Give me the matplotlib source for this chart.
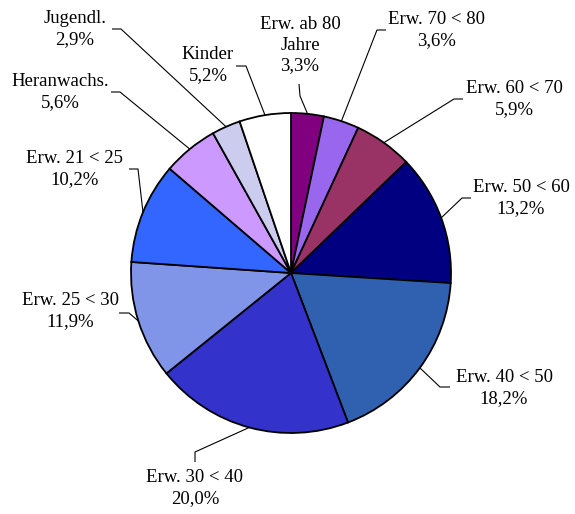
import matplotlib
matplotlib.use('Agg')
import matplotlib.pyplot as plt
import numpy as np

plt.rcParams['font.family'] = ['Liberation Serif', 'DejaVu Serif']

labels = ['Erw. ab 80\nJahre', 'Erw. 70 < 80', 'Erw. 60 < 70', 'Erw. 50 < 60',
          'Erw. 40 < 50', 'Erw. 30 < 40', 'Erw. 25 < 30', 'Erw. 21 < 25',
          'Heranwachs.', 'Jugendl.', 'Kinder']
values = [3.3, 3.6, 5.9, 13.2, 18.2, 20.0, 11.9, 10.2, 5.6, 2.9, 5.2]
colors = ['#800080', '#9966ee', '#993366', '#000080', '#3060b0', '#3333cc',
          '#8094e8', '#3366ff', '#cc99ff', '#ccccee', '#ffffff']

W, H = 575, 514
# label layout in pixels (top-left origin): text centre, line start, elbow
text_pos = [(300, 45), (437, 30), (514, 99), (521, 198), (504, 388), (195, 488),
            (70, 311), (75, 169), (60, 92), (75, 29), (208, 65)]
hook = [((299, 84), (300, 96)), ((386, 30), (377, 30)), ((463, 99), (454, 99)),
        ((471, 198), (462, 198)), ((450, 387), (440, 387)), ((195, 462), (195, 452)),
        ((119, 313), (129, 313)), ((129, 169), (138, 169)), ((111, 92), (120, 92)),
        ((112, 29), (121, 29)), ((236, 66), (246, 66))]

cx, cy, r = 291, H - 273, 160

fig = plt.figure(figsize=(5.75, 5.14), dpi=100)
ax = fig.add_axes([0, 0, 1, 1])
wedges, _ = ax.pie(values, colors=colors, startangle=90, counterclock=False,
                   center=(cx, cy), radius=r,
                   wedgeprops=dict(edgecolor='black', linewidth=1.3))

for i, w in enumerate(wedges):
    mid = np.deg2rad((w.theta1 + w.theta2) / 2)
    ax_x = cx + r * np.cos(mid)
    ax_y = cy + r * np.sin(mid)
    (sx, sy), (ex, ey) = hook[i]
    ax.plot([sx, ex, ax_x], [H - sy, H - ey, ax_y], color='black', lw=0.8,
            solid_capstyle='butt')
    pct = f"{values[i]:.1f}".replace('.', ',') + '%'
    tx, ty = text_pos[i]
    ax.text(tx, H - ty, labels[i] + '\n' + pct, ha='center', va='center',
            fontsize=13.5, linespacing=1.25, multialignment='center')

ax.set_xlim(0, W)
ax.set_ylim(0, H)
ax.set_aspect('equal')
ax.axis('off')
fig.savefig('out.png', dpi=100)
